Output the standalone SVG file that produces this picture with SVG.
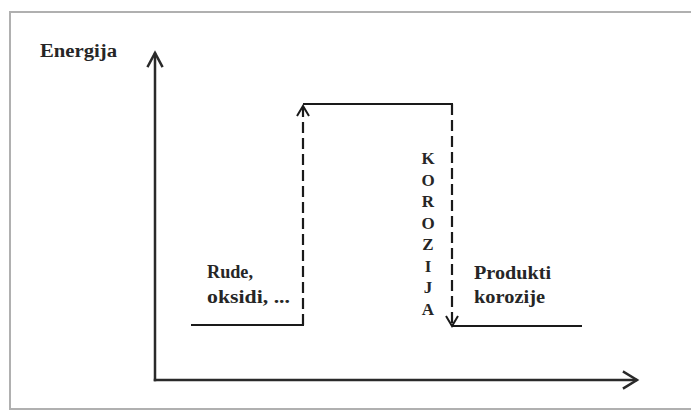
<svg xmlns="http://www.w3.org/2000/svg" width="691" height="412" viewBox="0 0 691 412">
<style>
.frame{fill:none;stroke:#b0b0b0;stroke-width:2}
.ax{fill:none;stroke:#2a2a2a;stroke-width:2.5;stroke-linecap:square}
.lv{fill:none;stroke:#1a1a1a;stroke-width:2.2}
.dash{fill:none;stroke:#1a1a1a;stroke-width:2.2;stroke-dasharray:11 5}
.head{fill:none;stroke:#1a1a1a;stroke-width:2;stroke-linejoin:miter}
.t{font-family:"Liberation Serif","Times New Roman",serif;font-size:18px;font-weight:bold;fill:#262626}
.v{font-family:"Liberation Serif","Times New Roman",serif;font-size:17px;font-weight:bold;fill:#262626;text-anchor:middle}
</style>
<rect x="0" y="0" width="691" height="412" fill="#ffffff"/>
<path class="frame" d="M 695 12 L 10 12 L 10 409 L 695 409"/>
<g id="axes">
<path class="ax" d="M 155 380 L 155 54"/>
<path class="ax" d="M 148 66 L 155 53 L 162 66" stroke-linecap="round"/>
<path class="ax" d="M 155 380 L 636 380"/>
<path class="ax" d="M 624 372 L 637 380 L 624 388" stroke-linecap="round"/>
<text class="t" x="40" y="57" textLength="77" lengthAdjust="spacingAndGlyphs">Energija</text>
</g>
<g id="node-rude">
<path class="lv" d="M 191 325 L 304 325"/>
<text class="t" x="207" y="278" textLength="46" lengthAdjust="spacingAndGlyphs">Rude,</text>
<text class="t" x="207" y="303" textLength="83" lengthAdjust="spacingAndGlyphs">oksidi, ...</text>
</g>
<g id="node-top">
<path class="lv" d="M 303 104 L 453 104"/>
</g>
<g id="node-produkti">
<path class="lv" d="M 452 326 L 582 326"/>
<text class="t" x="474" y="279" textLength="77" lengthAdjust="spacingAndGlyphs">Produkti</text>
<text class="t" x="474" y="303" textLength="71" lengthAdjust="spacingAndGlyphs">korozije</text>
</g>
<g id="connectors">
<path class="dash" d="M 303 325 L 303 108"/>
<path class="head" d="M 297 116 L 303 106 L 309 116"/>
<path class="dash" d="M 452 104 L 452 324"/>
<path class="head" d="M 446 316 L 452 326 L 458 316"/>
<g id="label-korozija">
<text class="v" x="428" y="164">K</text>
<text class="v" x="428" y="185.5">O</text>
<text class="v" x="428" y="207">R</text>
<text class="v" x="428" y="228.5">O</text>
<text class="v" x="428" y="250">Z</text>
<text class="v" x="428" y="271.5">I</text>
<text class="v" x="428" y="293">J</text>
<text class="v" x="428" y="314.5">A</text>
</g>
</g>
</svg>
